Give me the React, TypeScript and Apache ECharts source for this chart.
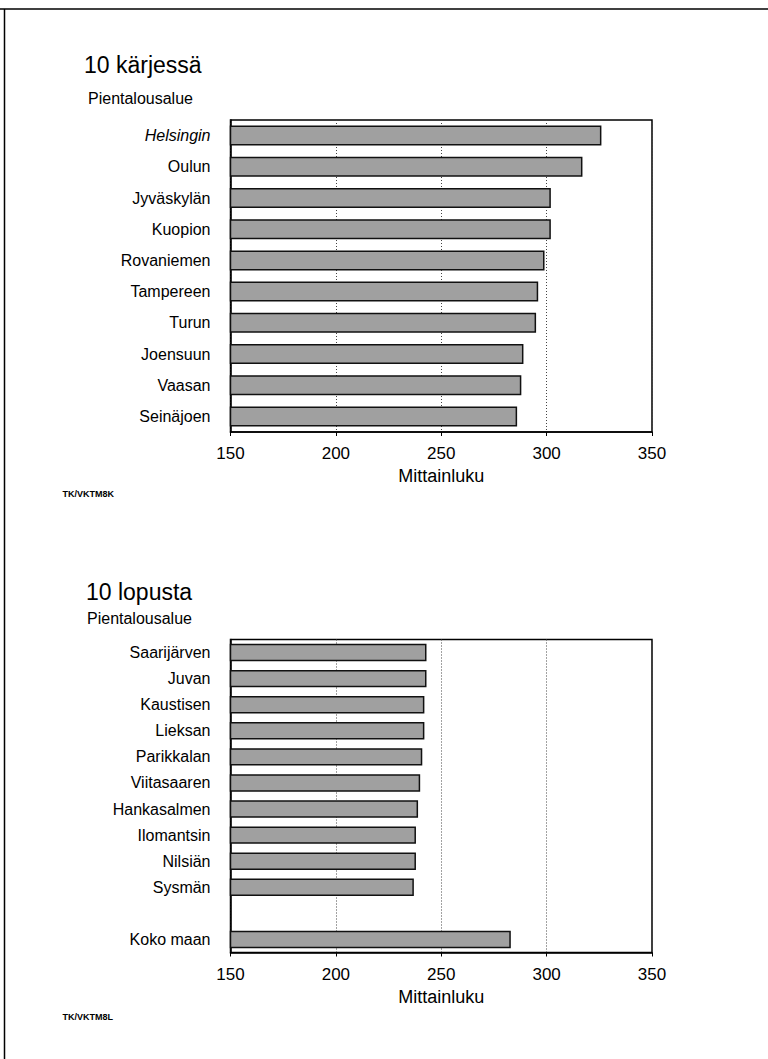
import React, { useEffect, useRef } from "react";
import * as echarts from "echarts";

const topCategories = ["Helsingin", "Oulun", "Jyväskylän", "Kuopion", "Rovaniemen", "Tampereen", "Turun", "Joensuun", "Vaasan", "Seinäjoen"];
const topValues = [326, 317, 302, 302, 299, 296, 295, 289, 288, 286];

const bottomCategories = ["Saarijärven", "Juvan", "Kaustisen", "Lieksan", "Parikkalan", "Viitasaaren", "Hankasalmen", "Ilomantsin", "Nilsiän", "Sysmän", "", "Koko maan"];
const bottomValues: (number | null)[] = [243, 243, 242, 242, 241, 240, 239, 238, 238, 237, null, 283];

const xTicks = [150, 200, 250, 300, 350];

const FONT = "'Liberation Sans', Arial, Helvetica, sans-serif";

export default function App() {
  const ref = useRef<HTMLDivElement>(null);
  useEffect(() => {
    if (!ref.current) return;
    const chart = echarts.init(ref.current, null, { renderer: "svg" });
    const xAxisBase = (gridIndex: number) => ({
      type: "value",
      gridIndex,
      min: xTicks[0],
      max: xTicks[xTicks.length - 1],
      interval: 50,
      name: "Mittainluku",
      nameLocation: "middle",
      nameGap: 35,
      nameTextStyle: { fontFamily: FONT, fontSize: 18, color: "#000" },
      axisLine: { show: true, lineStyle: { color: "#000", width: 1.5 } },
      axisTick: { show: true, inside: false, length: 4, lineStyle: { color: "#000", width: 1 } },
      axisLabel: { fontFamily: FONT, fontSize: 17, color: "#000", margin: 13 },
      splitLine: { show: true, lineStyle: { color: "#444", type: [1, 2], width: 1 } },
    });
    const yAxisBase = (gridIndex: number, data: string[]) => ({
      type: "category",
      gridIndex,
      data,
      inverse: true,
      axisLine: { show: true, lineStyle: { color: "#000", width: 1.5 } },
      axisTick: { show: false },
      axisLabel: {
        fontFamily: FONT,
        fontSize: 16,
        color: "#000",
        margin: 20,
        formatter: (v: string) => (v === "Helsingin" ? "{it|" + v + "}" : v),
        rich: { it: { fontFamily: FONT, fontSize: 16, fontStyle: "italic", color: "#000" } },
      },
      splitLine: { show: false },
    });
    const barStyle = {
      color: "#a0a0a0",
      borderColor: "#111",
      borderWidth: 1.5,
    };
    const textEl = (x: number, y: number, text: string, size: number, weight = "normal") => ({
      type: "text",
      x,
      y,
      style: { text, fontFamily: FONT, fontSize: size, fontWeight: weight, fill: "#000" },
    });
    chart.setOption({
      animation: false,
      backgroundColor: "#fff",
      grid: [
        { left: 230.5, right: 116, top: 120, height: 312, show: true, borderColor: "#000", borderWidth: 1.5, backgroundColor: "transparent" },
        { left: 230.5, right: 116, top: 639.5, height: 313, show: true, borderColor: "#000", borderWidth: 1.5, backgroundColor: "transparent" },
      ],
      xAxis: [xAxisBase(0), xAxisBase(1)],
      yAxis: [yAxisBase(0, topCategories), yAxisBase(1, bottomCategories)],
      series: [
        { type: "bar", xAxisIndex: 0, yAxisIndex: 0, data: topValues, barCategoryGap: "36%", itemStyle: barStyle, silent: true },
        { type: "bar", xAxisIndex: 1, yAxisIndex: 1, data: bottomValues, barCategoryGap: "33%", itemStyle: barStyle, silent: true },
      ],
      graphic: [
        { type: "line", shape: { x1: 0, y1: 9, x2: 768, y2: 9 }, style: { stroke: "#000", lineWidth: 1.5 } },
        { type: "line", shape: { x1: 4.5, y1: 9, x2: 4.5, y2: 1059 }, style: { stroke: "#000", lineWidth: 1.5 } },
        textEl(84, 53, "10 kärjessä", 23),
        textEl(88, 90, "Pientalousalue", 16),
        textEl(86, 580, "10 lopusta", 23),
        textEl(87, 610, "Pientalousalue", 16),
        textEl(62.5, 489.5, "TK/VKTM8K", 9, "bold"),
        textEl(62.5, 1012.5, "TK/VKTM8L", 9, "bold"),
      ],
    });
    return () => chart.dispose();
  }, []);
  return <div ref={ref} style={{ position: "absolute", left: 0, top: 0, width: 768, height: 1059 }} />;
}
